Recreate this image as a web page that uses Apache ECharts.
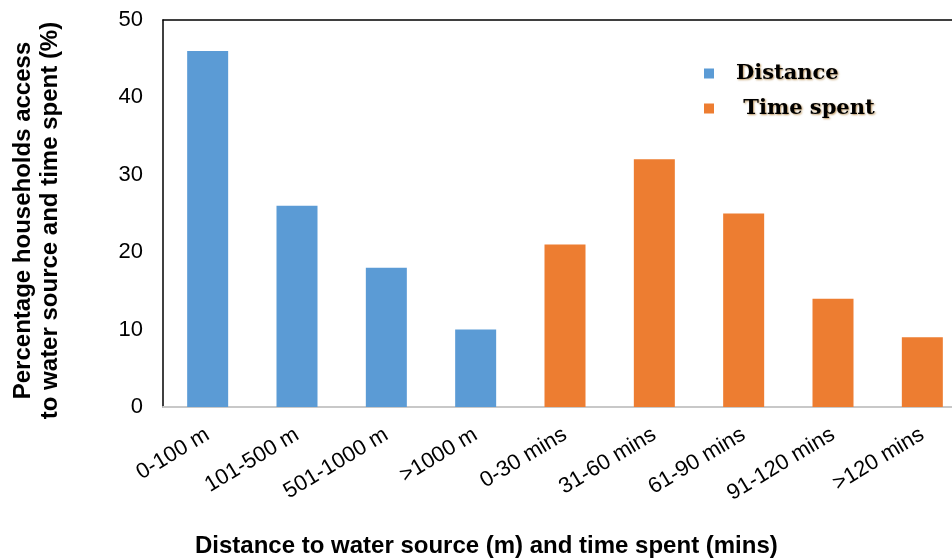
<!DOCTYPE html>
<html><head><meta charset="utf-8">
<script src="https://cdn.jsdelivr.net/npm/echarts@6/dist/echarts.min.js"></script>
<style>html,body{margin:0;padding:0;background:#fff}#c{width:952px;height:558px}</style>
</head><body><div id="c"></div>
<script>
const categories = ['0-100 m','101-500 m','501-1000 m','>1000 m','0-30 mins','31-60 mins','61-90 mins','91-120 mins','>120 mins'];
const distanceValues = [46, 26, 18, 10, '-', '-', '-', '-', '-'];
const timeValues = ['-', '-', '-', '-', 21, 32, 25, 14, 9];
const yTicks = {min: 0, max: 50, interval: 10};

const chart = echarts.init(document.getElementById('c'));
const font = 'Liberation Sans, Arial, sans-serif';
chart.setOption({
  animation: false,
  title: {
    text: 'Distance to water source (m) and time spent (mins)',
    left: 190, top: 529,
    textStyle: {fontFamily: font, fontSize: 24, fontWeight: 'bold', color: '#000'}
  },
  legend: {
    orient: 'vertical', left: 699, top: 56, itemGap: 10,
    itemWidth: 10, itemHeight: 10, icon: 'rect',
    formatter: n => n === 'Time spent' ? ' ' + n : n,
    textStyle: {fontFamily: 'DejaVu Serif, Liberation Serif, serif', fontSize: 21, fontWeight: 'bold', color: '#000',
      lineHeight: 25, padding: [0, 0, 0, 17],
      textShadowColor: 'rgba(170,120,50,0.75)', textShadowBlur: 2, textShadowOffsetX: 1, textShadowOffsetY: 1},
    data: ['Distance', 'Time spent']
  },
  grid: {left: 163, top: 20, width: 804, height: 387, containLabel: false, outerBoundsMode: 'none'},
  xAxis: [{
    type: 'category', data: categories,
    axisLine: {lineStyle: {color: '#c8c8c8', width: 2}},
    axisTick: {show: false},
    axisLabel: {rotate: 31, fontFamily: font, fontSize: 22, color: '#000', margin: 26, interval: 0}
  }, {
    type: 'category', position: 'top', data: categories,
    axisLine: {lineStyle: {color: '#000', width: 1.5}},
    axisTick: {show: false}, axisLabel: {show: false}
  }],
  yAxis: {
    type: 'value', min: yTicks.min, max: yTicks.max, interval: yTicks.interval,
    name: 'Percentage households access\nto water source and time spent (%)',
    nameLocation: 'middle', nameRotate: 90, nameGap: 99,
    nameTextStyle: {fontFamily: font, fontSize: 24, fontWeight: 'bold', color: '#000', lineHeight: 27, padding: [0, 14, 0, 0]},
    axisLine: {show: true, lineStyle: {color: '#000', width: 1.5}},
    axisTick: {show: false},
    splitLine: {show: false},
    axisLabel: {fontFamily: font, fontSize: 22, color: '#000', margin: 20}
  },
  series: [{
    name: 'Distance', type: 'bar', data: distanceValues, barWidth: 41, barGap: '-100%',
    itemStyle: {color: '#5B9BD5'}
  }, {
    name: 'Time spent', type: 'bar', data: timeValues, barWidth: 41,
    itemStyle: {color: '#ED7D31'}
  }]
});
</script></body></html>
